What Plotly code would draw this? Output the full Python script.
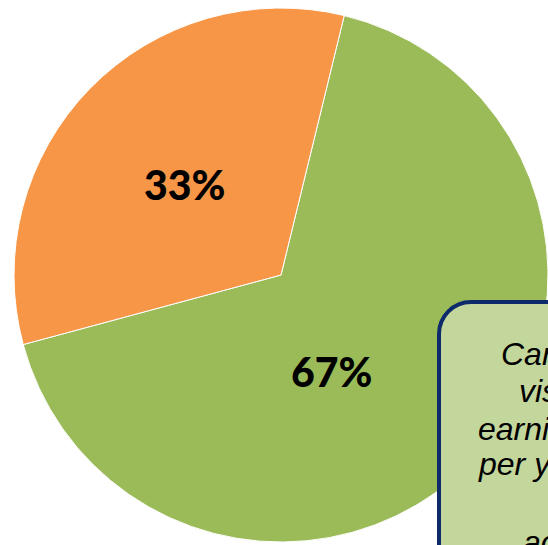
import plotly.graph_objects as go

# Share of the two groups
categories = ["Above threshold", "Below threshold"]
shares = [67, 33]
slice_colors = ["#9BBB59", "#F79646"]

# Callout text, one entry per line
callout_lines = [
    "Care workers on",
    "visas",
    "earning less",
    "per year than",
    "£25,600",
    "across the UK",
]

W, H = 548, 545

fig = go.Figure()

fig.add_trace(go.Pie(
    labels=categories,
    values=shares,
    sort=False,
    direction="clockwise",
    rotation=13.7,
    marker=dict(colors=slice_colors, line=dict(color="white", width=1)),
    textinfo="none",
    hoverinfo="label+percent",
    showlegend=False,
    domain=dict(x=[2 * 281 / W - 1, 1.0], y=[3 / H, 537 / H]),
))

# Percentage labels placed inside the slices
total = sum(shares)
label_pos = [(331, 371), (184, 185)]  # pixel centres (x, y from top)
for val, (px, py) in zip(shares, label_pos):
    fig.add_annotation(
        x=px / W, y=1 - py / H, xref="paper", yref="paper",
        text=f"{round(100 * val / total)}%",
        showarrow=False, xanchor="center", yanchor="middle",
        font=dict(family="Lato", size=41, color="black", weight=900),
    )

# Rounded callout box running off the lower-right corner
def px_x(v):
    return v / W

def px_y(v):
    return 1 - v / H

left, top, r = 439, 302, 32
k = 0.5523 * r
path = (
    f"M {px_x(left)},{px_y(H + 60)} "
    f"L {px_x(left)},{px_y(top + r)} "
    f"C {px_x(left)},{px_y(top + r - k)} {px_x(left + r - k)},{px_y(top)} {px_x(left + r)},{px_y(top)} "
    f"L {px_x(W + 60)},{px_y(top)} "
    f"L {px_x(W + 60)},{px_y(H + 60)} Z"
)
fig.add_shape(
    type="path", path=path, xref="paper", yref="paper",
    fillcolor="#C3D69B", line=dict(color="#0D2A6B", width=4), layer="above",
)

line_starts = [499, 517, 476, 476, 546, 521]
baselines = [365, 402, 440, 475, 512, 553]
for txt, sx, by in zip(callout_lines, line_starts, baselines):
    fig.add_annotation(
        x=sx / W, y=1 - (by - 11) / H, xref="paper", yref="paper",
        text=f"<i>{txt}</i>", showarrow=False,
        xanchor="left", yanchor="middle",
        font=dict(family="Liberation Sans", size=32, color="black"),
    )

fig.update_layout(
    width=W, height=H,
    margin=dict(l=0, r=0, t=0, b=0),
    paper_bgcolor="white", plot_bgcolor="white",
)

fig.write_html("out.html")
